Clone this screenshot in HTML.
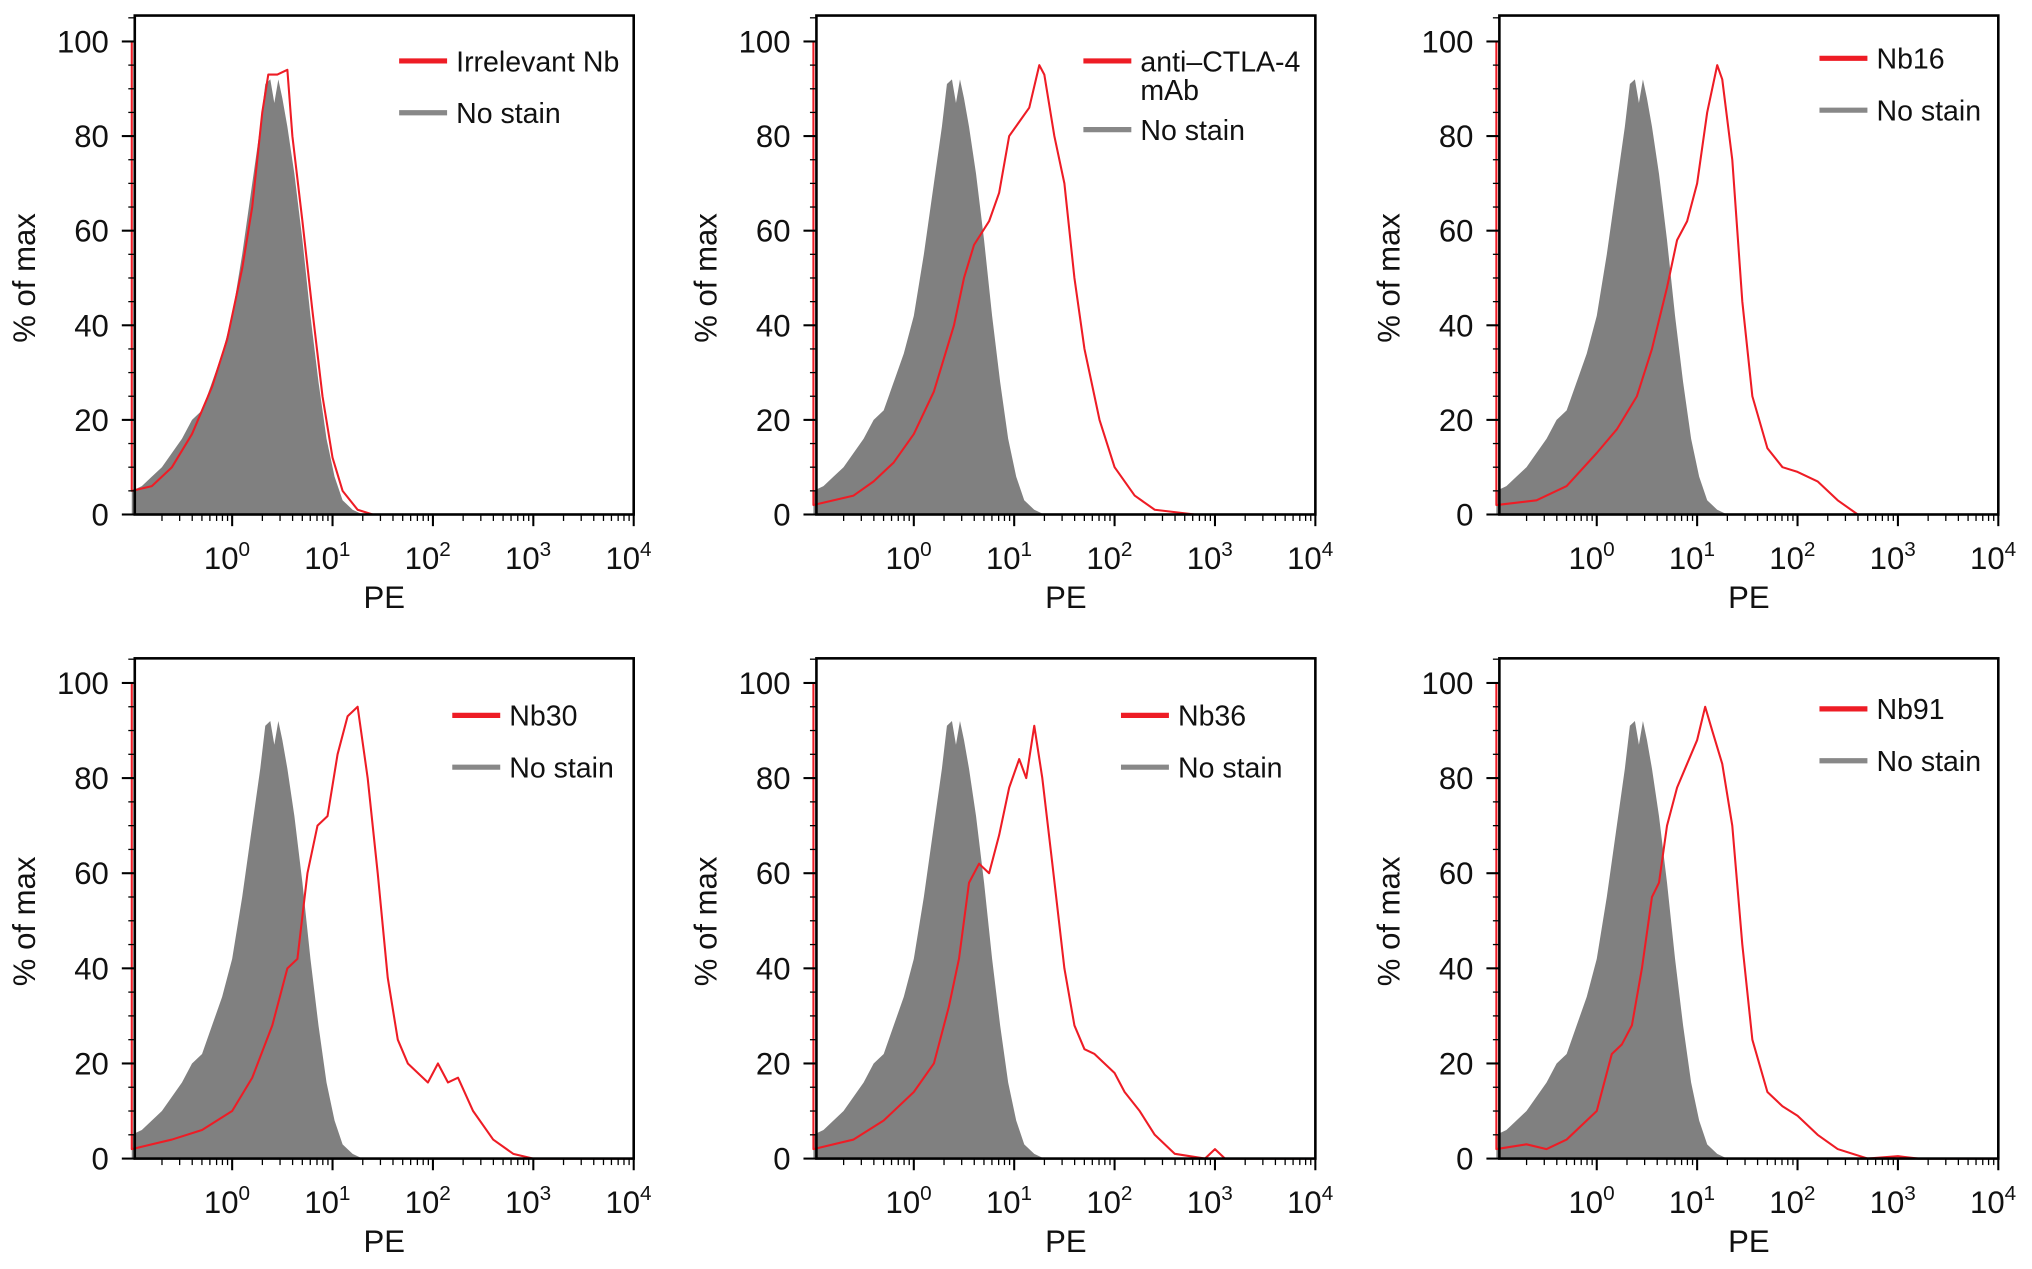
<!DOCTYPE html>
<html><head><meta charset="utf-8"><style>
html,body{margin:0;padding:0;background:#fff}
svg{display:block;font-family:"Liberation Sans",Arial,sans-serif}
</style></head><body>
<svg id="fig" width="2032" height="1269" viewBox="0 0 1568 979.2" preserveAspectRatio="none" xmlns="http://www.w3.org/2000/svg"></svg>
<script>
const panelTitles = [["Irrelevant Nb"],["anti–CTLA-4","mAb"],["Nb16"],["Nb30"],["Nb36"],["Nb91"]];
const grayX = [-1,-0.9,-0.8,-0.7,-0.6,-0.5,-0.4,-0.3,-0.2,-0.1,0,0.1,0.2,0.28,0.33,0.38,0.42,0.46,0.5,0.55,0.62,0.7,0.78,0.86,0.94,1.02,1.1,1.2,1.3,4];
const grayY = [5,6,8,10,13,16,20,22,28,34,42,55,70,82,91,92,87,92,88,82,72,58,42,28,16,8,3,1,0,0];
const redX1 = [-1,-0.8,-0.6,-0.4,-0.2,-0.05,0.1,0.2,0.3,0.36,0.45,0.55,0.6,0.7,0.8,0.9,1.0,1.1,1.25,1.4,4];
const redY1 = [5,6,10,17,27,37,52,65,85,93,93,94,80,62,43,25,12,5,1,0,0];
const redX2 = [-1,-0.6,-0.4,-0.2,0,0.2,0.4,0.5,0.6,0.75,0.85,0.95,1.05,1.15,1.25,1.3,1.4,1.5,1.6,1.7,1.85,2.0,2.2,2.4,2.8,4];
const redY2 = [2,4,7,11,17,26,40,50,57,62,68,80,83,86,95,93,80,70,50,35,20,10,4,1,0,0];
const redX3 = [-1,-0.6,-0.3,0,0.2,0.4,0.55,0.7,0.8,0.9,1.0,1.1,1.2,1.25,1.35,1.45,1.55,1.7,1.85,2.0,2.2,2.4,2.6,4];
const redY3 = [2,3,6,13,18,25,35,48,58,62,70,85,95,92,75,45,25,14,10,9,7,3,0,0];
const redX4 = [-1,-0.6,-0.3,0,0.2,0.4,0.55,0.65,0.75,0.85,0.95,1.05,1.15,1.25,1.35,1.45,1.55,1.65,1.75,1.85,1.95,2.05,2.15,2.25,2.4,2.6,2.8,3.0,4];
const redY4 = [2,4,6,10,17,28,40,42,60,70,72,85,93,95,80,60,38,25,20,18,16,20,16,17,10,4,1,0,0];
const redX5 = [-1,-0.6,-0.3,0,0.2,0.35,0.45,0.55,0.65,0.75,0.85,0.95,1.05,1.12,1.2,1.28,1.38,1.5,1.6,1.7,1.8,1.9,2.0,2.1,2.25,2.4,2.6,2.9,3.0,3.1,4];
const redY5 = [2,4,8,14,20,32,42,58,62,60,68,78,84,80,91,80,62,40,28,23,22,20,18,14,10,5,1,0,2,0,0];
const redX6 = [-1,-0.7,-0.5,-0.3,0,0.15,0.25,0.35,0.45,0.55,0.62,0.7,0.8,0.9,1.0,1.08,1.15,1.25,1.35,1.45,1.55,1.7,1.85,2.0,2.2,2.4,2.7,3.0,3.2,4];
const redY6 = [2,3,2,4,10,22,24,28,40,55,58,70,78,83,88,95,90,83,70,45,25,14,11,9,5,2,0,0.5,0,0];
const redXs=[redX1,redX2,redX3,redX4,redX5,redX6];
const redYs=[redY1,redY2,redY3,redY4,redY5,redY6];
const yTicks=[0,20,40,60,80,100];
const xDecades=[0,1,2,3,4];

const NS="http://www.w3.org/2000/svg";
const svg=document.getElementById('fig');
function mk(tag,attrs,parent){const e=document.createElementNS(NS,tag);for(const k in attrs)e.setAttribute(k,attrs[k]);(parent||svg).appendChild(e);return e;}
const cols=[104,630,1157], rows=[{top:12,y100:32,y0:397},{top:508,y100:527,y0:894}];
const W=385, XMIN=-0.97, XMAX=4.0;
const legendPos=[[308,47],[836,47],[1404,45],[349,552],[865,552],[1404,547]];
panelTitles.forEach((title,i)=>{
  const L=cols[i%3], R=rows[Math.floor(i/3)];
  const g=mk('g',{});
  
  
  const xs=v=>L+(v-XMIN)/(XMAX-XMIN)*W;
  const ys=v=>R.y0-v/100*(R.y0-R.y100);
  let d='M'+xs(grayX[0])+','+ys(0);
  grayX.forEach((x,j)=>d+=' L'+xs(x)+','+ys(grayY[j]));
  d+=' L'+xs(grayX[grayX.length-1])+','+ys(0)+'Z';
  const gp=mk('path',{d:d,fill:'#808080',stroke:'none'},g);
  
  
  const rx=redXs[i], ry=redYs[i];
  let rd='M'+xs(rx[0])+','+ys(100);
  rx.forEach((x,j)=>rd+=' L'+xs(x)+','+ys(ry[j]));
  const rp=mk('path',{d:rd,fill:'none',stroke:'#ee1c25','stroke-width':1.6,'stroke-linejoin':'round'},g);
  
  
  const fr=mk('rect',{x:L,y:R.top,width:W,height:R.y0-R.top,fill:'none',stroke:'#000','stroke-width':2},g);
  
  
  for(let v=0;v<=105;v+=5){
    const big=v%20===0;
    mk('line',{x1:L-(big?10:5),x2:L,y1:ys(v),y2:ys(v),stroke:'#000','stroke-width':big?1.6:1},g);
  }
  yTicks.forEach(v=>{
    const t=mk('text',{x:L-20,y:ys(v)+8.5,'text-anchor':'end','font-size':24,fill:'#111'},g);
    t.textContent=v;
    
    
  });
  for(let dcd=-1;dcd<4;dcd++){for(let m=1;m<10;m++){const lv=dcd+Math.log10(m);if(lv<XMIN)continue;
    mk('line',{x1:xs(lv),x2:xs(lv),y1:R.y0,y2:R.y0+(m===1?9:5),stroke:'#000','stroke-width':m===1?1.6:1},g);}}
  mk('line',{x1:xs(4),x2:xs(4),y1:R.y0,y2:R.y0+9,stroke:'#000','stroke-width':1.6},g);
  xDecades.forEach(v=>{
    const t=mk('text',{x:xs(v)-4,y:R.y0+42,'text-anchor':'middle','font-size':24,fill:'#111'},g);
    
    
    const a=mk('tspan',{},t);a.textContent='10';
    const b=mk('tspan',{'font-size':16,dy:-10},t);b.textContent=v;
  });
  const xt=mk('text',{x:L+W/2,y:R.y0+72,'text-anchor':'middle','font-size':24,fill:'#111'},g);
  xt.textContent='PE';
  
  
  const yc=(R.top+R.y0)/2+10;
  const yt=mk('text',{x:0,y:0,transform:'translate('+(L-77)+','+yc+') rotate(-90)','text-anchor':'middle','font-size':24,fill:'#111'},g);
  yt.textContent='% of max';
  
  
  const [lx,ly]=legendPos[i];
  const lg=mk('g',{},g);
  
  
  mk('line',{x1:lx,x2:lx+37,y1:ly,y2:ly,stroke:'#ee1c25','stroke-width':4},lg);
  title.forEach((s,k)=>{const t=mk('text',{x:lx+44,y:ly+8+k*22,'font-size':22,fill:'#111'},lg);t.textContent=s;});
  const gy=ly+40+(title.length-1)*13;
  mk('line',{x1:lx,x2:lx+37,y1:gy,y2:gy,stroke:'#888','stroke-width':4},lg);
  const nt=mk('text',{x:lx+44,y:gy+8,'font-size':22,fill:'#111'},lg);nt.textContent='No stain';
});
</script>
</body></html>
